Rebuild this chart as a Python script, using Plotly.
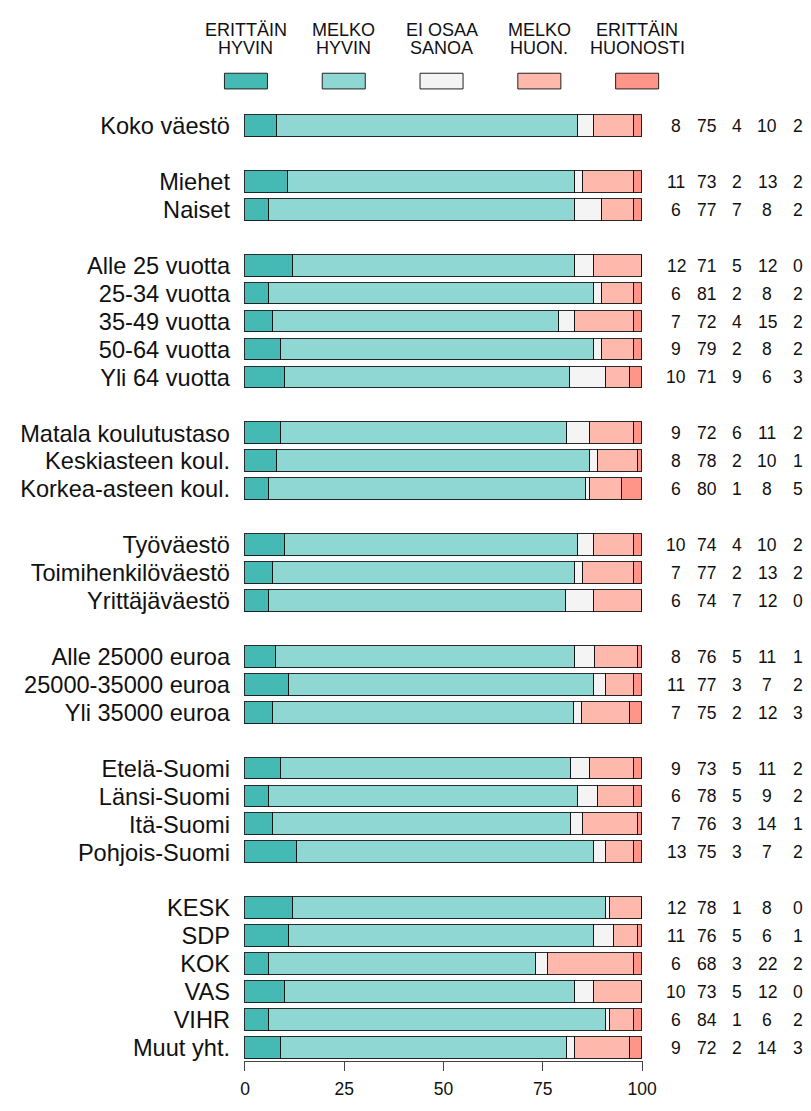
import plotly.graph_objects as go

# ---------------- data ----------------
categories = [
    "Koko väestö",
    "Miehet", "Naiset",
    "Alle 25 vuotta", "25-34 vuotta", "35-49 vuotta", "50-64 vuotta", "Yli 64 vuotta",
    "Matala koulutustaso", "Keskiasteen koul.", "Korkea-asteen koul.",
    "Työväestö", "Toimihenkilöväestö", "Yrittäjäväestö",
    "Alle 25000 euroa", "25000-35000 euroa", "Yli 35000 euroa",
    "Etelä-Suomi", "Länsi-Suomi", "Itä-Suomi", "Pohjois-Suomi",
    "KESK", "SDP", "KOK", "VAS", "VIHR", "Muut yht.",
]
group_sizes = [1, 2, 5, 3, 3, 3, 4, 6]

series_names = ["ERITTÄIN HYVIN", "MELKO HYVIN", "EI OSAA SANOA", "MELKO HUON.", "ERITTÄIN HUONOSTI"]
legend_line1 = ["ERITTÄIN", "MELKO", "EI OSAA", "MELKO", "ERITTÄIN"]
legend_line2 = ["HYVIN", "HYVIN", "SANOA", "HUON.", "HUONOSTI"]

erittain_hyvin = [8, 11, 6, 12, 6, 7, 9, 10, 9, 8, 6, 10, 7, 6, 8, 11, 7, 9, 6, 7, 13, 12, 11, 6, 10, 6, 9]
melko_hyvin = [75, 73, 77, 71, 81, 72, 79, 71, 72, 78, 80, 74, 77, 74, 76, 77, 75, 73, 78, 76, 75, 78, 76, 68, 73, 84, 72]
ei_osaa = [4, 2, 7, 5, 2, 4, 2, 9, 6, 2, 1, 4, 2, 7, 5, 3, 2, 5, 5, 3, 3, 1, 5, 3, 5, 1, 2]
melko_huon = [10, 13, 8, 12, 8, 15, 8, 6, 11, 10, 8, 10, 13, 12, 11, 7, 12, 11, 9, 14, 7, 8, 6, 22, 12, 6, 14]
erittain_huonosti = [2, 2, 2, 0, 2, 2, 2, 3, 2, 1, 5, 2, 2, 0, 1, 2, 3, 2, 2, 1, 2, 0, 1, 2, 0, 2, 3]

tick_values = [0, 25, 50, 75, 100]
colors = ["#45B9B3", "#8FD7D3", "#F4F4F4", "#FFB9AC", "#FF9588"]

series = [erittain_hyvin, melko_hyvin, ei_osaa, melko_huon, erittain_huonosti]

# ---------------- row positions (with a blank row between groups) ----------------
positions = []
pos = 0
for gs in group_sizes:
    for _ in range(gs):
        positions.append(pos)
        pos += 1
    pos += 1

totals = [sum(s[i] for s in series) for i in range(len(categories))]

FONT = "Liberation Sans, Arial, Helvetica, sans-serif"

fig = go.Figure()
for name, vals, col in zip(series_names, series, colors):
    norm = [v / t * 100 for v, t in zip(vals, totals)]
    fig.add_trace(go.Bar(
        y=positions, x=norm, orientation="h", name=name,
        marker=dict(color=col, line=dict(color="rgba(20,20,20,0.9)", width=1)),
        width=0.78, showlegend=False, hoverinfo="skip",
    ))

# ---------------- geometry (page pixels; page body has an 8px margin) ----------------
OFF = 8
FW, FH = 811 - OFF, 1111 - OFF
L, R, T, B = 235, 643, 112, 1079  # plot area in page pixels
W, H = R - L, B - T


def px2x(px):
    return (px - L) / W


def py2y(py):
    return (B - py) / H


annotations = []
shapes = []

# right-hand value columns
col_px = [677, 708, 739, 770, 801]
for vals, cx in zip(series, col_px):
    for p, v in zip(positions, vals):
        annotations.append(dict(
            x=px2x(cx), xref="paper", y=p, yref="y", text=str(v), showarrow=False,
            xanchor="center", yanchor="middle",
            font=dict(family=FONT, size=17.5, color="#111"),
        ))

# legend on top
for i, (l1, l2, col) in enumerate(zip(legend_line1, legend_line2, colors)):
    cx = 237 + 100 * i
    shapes.append(dict(
        type="rect", xref="paper", yref="paper",
        x0=px2x(cx - 22), x1=px2x(cx + 22), y0=py2y(88.5), y1=py2y(72.5),
        fillcolor=col, line=dict(color="#222", width=1),
    ))
    annotations.append(dict(
        x=px2x(cx), xref="paper", y=py2y(28), yref="paper", text=l1, showarrow=False,
        xanchor="center", yanchor="middle",
        font=dict(family=FONT, size=18, color="#111"),
    ))
    annotations.append(dict(
        x=px2x(cx), xref="paper", y=py2y(46.5), yref="paper", text=l2, showarrow=False,
        xanchor="center", yanchor="middle",
        font=dict(family=FONT, size=18, color="#111"),
    ))

fig.update_layout(
    width=FW, height=FH,
    margin=dict(l=L - OFF, r=FW - (R - OFF), t=T - OFF, b=FH - (B - OFF), pad=0),
    paper_bgcolor="white", plot_bgcolor="white",
    barmode="stack", bargap=0,
    font=dict(family=FONT, color="#111"),
    xaxis=dict(
        range=[-0.25, 100.25], tickvals=tick_values, ticktext=[str(t) for t in tick_values],
        showgrid=False, zeroline=False, showline=True, linecolor="#444", linewidth=1,
        ticks="outside", ticklen=9, tickcolor="#444", tickwidth=1,
        ticklabelstandoff=3,
        tickfont=dict(size=17.5, color="#111"),
    ),
    yaxis=dict(
        range=[33.47, -0.5], tickvals=positions, ticktext=categories,
        showgrid=False, zeroline=False, showline=False, ticks="",
        ticklabelstandoff=13,
        tickfont=dict(size=23.6, color="#111"),
    ),
    annotations=annotations, shapes=shapes,
)

fig.write_html("out.html")
